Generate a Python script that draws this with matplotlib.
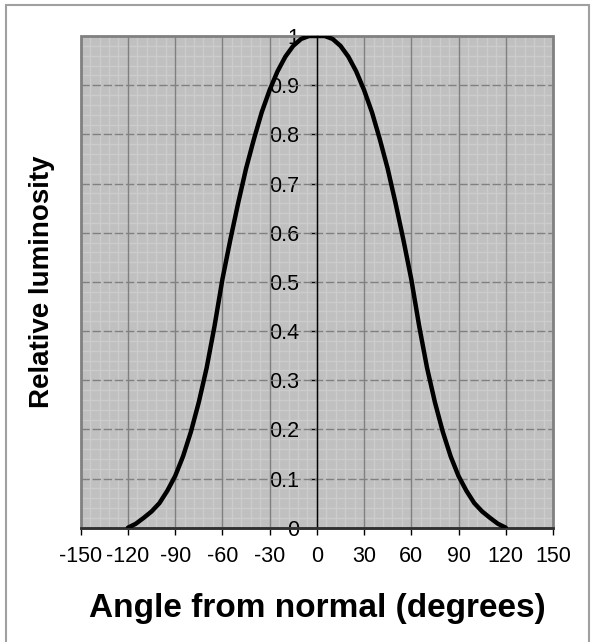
import matplotlib
matplotlib.use('Agg')
import matplotlib.pyplot as plt
from matplotlib.patches import Rectangle
from matplotlib.ticker import MultipleLocator

plt.rcParams['font.family'] = ['Liberation Sans', 'DejaVu Sans']

# 데이터
angle = [-120, -115, -110, -105, -100, -95, -90, -85, -80, -75, -70, -65, -60,
         -55, -50, -45, -40, -35, -30, -25, -20, -15, -10, -5, 0,
         5, 10, 15, 20, 25, 30, 35, 40, 45, 50, 55, 60,
         65, 70, 75, 80, 85, 90, 95, 100, 105, 110, 115, 120]
luminosity = [0.0, 0.008, 0.02, 0.033, 0.05, 0.075, 0.105, 0.145, 0.195, 0.255, 0.325, 0.41, 0.505,
              0.585, 0.66, 0.73, 0.79, 0.845, 0.89, 0.928, 0.958, 0.98, 0.994, 1.0, 1.0,
              1.0, 0.994, 0.98, 0.958, 0.928, 0.89, 0.845, 0.79, 0.73, 0.66, 0.585, 0.505,
              0.41, 0.325, 0.255, 0.195, 0.145, 0.105, 0.075, 0.05, 0.033, 0.02, 0.008, 0.0]
x_ticks = [-150, -120, -90, -60, -30, 0, 30, 60, 90, 120, 150]
y_ticks = [0, 0.1, 0.2, 0.3, 0.4, 0.5, 0.6, 0.7, 0.8, 0.9, 1]
y_tick_labels = ['0', '0.1', '0.2', '0.3', '0.4', '0.5', '0.6', '0.7', '0.8', '0.9', '1']

W, H = 596, 642
fig = plt.figure(figsize=(W / 100, H / 100), dpi=100)
fig.set_facecolor('white')

# 바깥 테두리
fig.patches.append(Rectangle((6 / W, -0.01), 583 / W, 1.01 - 5 / H, transform=fig.transFigure,
                             fill=False, edgecolor='#a0a0a0', lw=1.5))

ax = fig.add_axes([80.7 / W, 1 - 527.7 / H, (553 - 80.7) / W, (527.7 - 36) / H])
ax.set_facecolor('#c0c0c0')
ax.set_xlim(-150, 150)
ax.set_ylim(0, 1)

# 격자
ax.xaxis.set_minor_locator(MultipleLocator(6))
ax.yaxis.set_minor_locator(MultipleLocator(0.02))
ax.grid(which='minor', color='#cccccc', lw=1, ls='-')
for xv in x_ticks[1:-1]:
    ax.axvline(xv, color='#808080', lw=1, zorder=1)
for yv in y_ticks[1:-1]:
    ax.axhline(yv, color='#808080', lw=1, ls=(0, (6, 2)), zorder=1)
ax.set_axisbelow(True)

# 곡선
ax.plot(angle, luminosity, color='black', lw=3.2, solid_capstyle='round', zorder=5)

# 축
ax.spines['top'].set_visible(False)
ax.spines['right'].set_visible(False)
ax.spines['left'].set_position(('data', 0))
ax.spines['left'].set_color('black')
ax.spines['left'].set_linewidth(1)
ax.spines['left'].set_zorder(4)
ax.spines['bottom'].set_color('#303030')
ax.spines['bottom'].set_linewidth(2)
ax.spines['bottom'].set_zorder(4)
ax.add_patch(Rectangle((0, 0), 1, 1, transform=ax.transAxes, fill=False,
                       edgecolor='#808080', lw=2, zorder=3, clip_on=False))

ax.set_xticks(x_ticks)
ax.set_xticklabels([str(v) for v in x_ticks])
ax.set_yticks(y_ticks)
ax.set_yticklabels(y_tick_labels)
ax.tick_params(which='minor', length=0)
ax.tick_params(axis='x', which='major', direction='out', length=5, width=1, pad=8, labelsize=15.5)
ax.tick_params(axis='y', which='major', direction='out', length=5, width=1, pad=8, labelsize=15.5)

ax.set_xlabel('Angle from normal (degrees)', fontsize=24, fontweight='bold', labelpad=19)
fig.text(42 / W, 1 - 282 / H, 'Relative luminosity', rotation=90, fontsize=20,
         fontweight='bold', ha='center', va='center')

fig.savefig('out.png', dpi=100, facecolor='white')
